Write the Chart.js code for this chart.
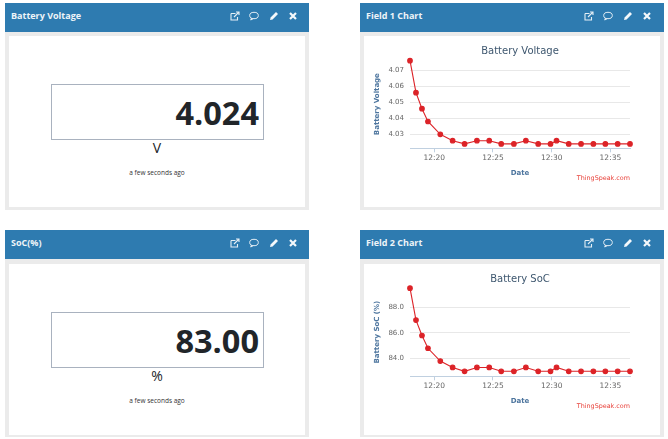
<!DOCTYPE html>
<html>
<head>
<meta charset="utf-8">
<title>Channel view</title>
<script src="https://cdn.jsdelivr.net/npm/chart.js@4"></script>
<style>
  html, body { margin: 0; padding: 0; background: #fff; }
  body { width: 668px; height: 439px; position: relative; overflow: hidden; font-family: "Open Sans", sans-serif; }
  .panel { position: absolute; width: 304px; height: 207px; background: #ebebeb; }
  .panel .head { position: absolute; left: 0; top: 0; right: 0; height: 29px; background: #2e7bb0; }
  .panel .head .name { position: absolute; left: 6px; top: 6px; font-size: 9px; font-weight: 700; color: #eef4f8; line-height: 14px; }
  .panel .head svg { position: absolute; top: 8px; width: 10px; height: 10px; }
  .panel .body { position: absolute; left: 4px; width: 296px; height: 171px; background: #fff; }
  .panel canvas { position: absolute; left: 0; top: 0; }
  .lamp { position: absolute; left: 42px; top: 48px; width: 207px; height: 54px; border: 1px solid #a9b2bf; color: #212529; font-size: 32.5px; font-weight: 700; line-height: 55px; text-align: right; padding-right: 4px; }
  .unit { position: absolute; left: 0; width: 296px; top: 102px; text-align: center; font-size: 14px; line-height: 20px; color: #212529; }
  .ago { position: absolute; left: 0; width: 296px; top: 132px; text-align: center; font-size: 6.5px; line-height: 10px; color: #333; }
  .credit { position: absolute; left: 190px; width: 76px; top: 137px; text-align: right; font-family: "DejaVu Sans", sans-serif; font-size: 6.4px; line-height: 10px; color: #e8413a; }
</style>
</head>
<body>
<script>
// minutes past 12:00 for each sample
const sampleMinutes = [17.93, 18.44, 18.95, 19.46, 20.51, 21.56, 22.58, 23.63, 24.68, 25.70, 26.78, 27.80, 28.85, 29.90, 30.41, 31.45, 32.50, 33.55, 34.57, 35.62, 36.67];
const voltageValues = [4.076, 4.056, 4.046, 4.038, 4.030, 4.026, 4.024, 4.026, 4.026, 4.024, 4.024, 4.026, 4.024, 4.024, 4.026, 4.024, 4.024, 4.024, 4.024, 4.024, 4.024];
const socValues = [89.5, 87.0, 85.8, 84.8, 83.8, 83.3, 83.0, 83.3, 83.3, 83.0, 83.0, 83.3, 83.0, 83.0, 83.3, 83.0, 83.0, 83.0, 83.0, 83.0, 83.0];

const timeTickValues = [20, 25, 30, 35];
const timeTickLabels = ['12:20', '12:25', '12:30', '12:35'];
const voltageTicks = [4.03, 4.04, 4.05, 4.06, 4.07];
const socTicks = [84, 86, 88];

const CHART_FONT = '"DejaVu Sans", sans-serif';
const LINE_RED = '#dc2328';

const ICONS = [
  // external link
  '<path d="M1 2.500h4.500M1 2.500v6.500h6.500V6M4 6l5-5M6 1h3v3" fill="none" stroke="#e4eef5" stroke-width="1.100"/>',
  // comment bubble
  '<ellipse cx="5" cy="4.500" rx="4.300" ry="3.200" fill="none" stroke="#e4eef5" stroke-width="1"/><path d="M2.500 7l-.8 2 2.500-1.300" fill="none" stroke="#e4eef5" stroke-width="1"/>',
  // pencil
  '<path d="M1 9l.6-2.600L7 1l2 2-5.400 5.400z" fill="#f4f8fb"/>',
  // close
  '<path d="M2 2l6 6M8 2l-6 6" stroke="#f4f8fb" stroke-width="2.200"/>'
];
const ICON_LEFT = [224.5, 244, 264, 283];

function addPanel(x, y, name, bodyTop) {
  const panel = document.createElement('div');
  panel.className = 'panel';
  panel.style.left = x + 'px';
  panel.style.top = y + 'px';
  const icons = ICONS.map((p, i) =>
    `<svg viewBox="0 0 10 10" style="left:${ICON_LEFT[i] - (x > 100 ? 1 : 0)}px">${p}</svg>`).join('');
  panel.innerHTML = `<div class="head"><div class="name">${name}</div>${icons}</div><div class="body" style="top:${bodyTop}px"></div>`;
  document.body.appendChild(panel);
  return panel.querySelector('.body');
}

function addLamp(x, y, name, bodyTop, value, unit) {
  const body = addPanel(x, y, name, bodyTop);
  body.innerHTML = `<div class="lamp">${value}</div><div class="unit">${unit}</div><div class="ago">a few seconds ago</div>`;
}

function addLineChart(x, y, name, bodyTop, cfg) {
  const body = addPanel(x, y, name, bodyTop);
  const canvas = document.createElement('canvas');
  canvas.width = 296;
  canvas.height = 171;
  canvas.style.width = '296px';
  canvas.style.height = '171px';
  body.appendChild(canvas);
  const credit = document.createElement('div');
  credit.className = 'credit';
  credit.textContent = 'ThingSpeak.com';
  body.appendChild(credit);

  new Chart(canvas, {
    type: 'line',
    data: {
      datasets: [{
        data: sampleMinutes.map((m, i) => ({ x: m, y: cfg.values[i] })),
        borderColor: LINE_RED,
        backgroundColor: LINE_RED,
        borderWidth: 1.1,
        pointRadius: 2.3,
        pointHoverRadius: 2.3,
        tension: 0,
        clip: false
      }]
    },
    options: {
      responsive: false,
      animation: false,
      layout: { padding: { right: 30 } },
      plugins: {
        legend: { display: false },
        tooltip: { enabled: false },
        title: {
          display: true,
          text: cfg.title,
          fullSize: false,
          color: '#3e576f',
          font: { family: CHART_FONT, size: 10, weight: 'normal' },
          padding: { top: 9, bottom: 3 }
        }
      },
      scales: {
        x: {
          type: 'linear',
          min: sampleMinutes[0],
          max: sampleMinutes[sampleMinutes.length - 1],
          afterBuildTicks: s => { s.ticks = timeTickValues.map(v => ({ value: v })); },
          afterFit: s => { s.height = 58.7; },
          border: { color: '#c0d0e0' },
          grid: { drawOnChartArea: false, tickLength: 4, tickColor: '#c0d0e0' },
          ticks: {
            autoSkip: false,
            maxRotation: 0,
            padding: 1,
            color: '#666',
            font: { family: CHART_FONT, size: 7.5 },
            callback: (v, i) => timeTickLabels[i]
          },
          title: {
            display: true,
            text: 'Date',
            color: '#4d759e',
            font: { family: CHART_FONT, size: 7, weight: 'bold' },
            padding: { bottom: 30 }
          }
        },
        y: {
          min: cfg.min,
          max: cfg.max,
          afterBuildTicks: s => { s.ticks = cfg.ticks.map(v => ({ value: v })); },
          afterFit: s => { s.width = 46; },
          border: { display: false },
          grid: { color: '#e8e8e8', drawTicks: false },
          ticks: {
            padding: 6,
            color: '#666',
            font: { family: CHART_FONT, size: 7 },
            callback: v => v.toFixed(cfg.decimals)
          },
          title: {
            display: true,
            text: cfg.axisTitle,
            color: '#4d759e',
            font: { family: CHART_FONT, size: 7, weight: 'bold' },
            padding: { top: 9 }
          }
        }
      }
    }
  });
}

addLamp(5, 3, 'Battery Voltage', 33, '4.024', 'V');
addLamp(5, 230, 'SoC(%)', 34, '83.00', '%');

addLineChart(360, 3, 'Field 1 Chart', 33, {
  title: 'Battery Voltage',
  axisTitle: 'Battery Voltage',
  values: voltageValues,
  ticks: voltageTicks,
  decimals: 2,
  min: 4.02125,
  max: 4.0764
});
addLineChart(360, 230, 'Field 2 Chart', 34, {
  title: 'Battery SoC',
  axisTitle: 'Battery SoC (%)',
  values: socValues,
  ticks: socTicks,
  decimals: 1,
  min: 82.61,
  max: 89.51
});
</script>
</body>
</html>
